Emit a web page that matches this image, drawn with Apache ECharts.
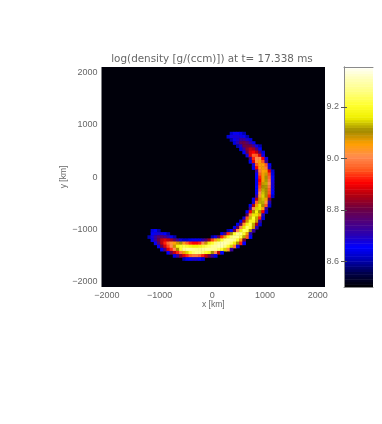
<!DOCTYPE html>
<html><head><meta charset="utf-8">
<style>html,body{margin:0;padding:0;background:#fff}#c{width:382px;height:424px}</style>
<script src="https://cdn.jsdelivr.net/npm/echarts@6/dist/echarts.min.js"></script>
</head><body><div id="c"></div>
<script>
const titleText = 'log(density [g/(ccm)]) at t= 17.338 ms';
const xTicks = [-2000,-1000,0,1000,2000];
const yTicks = [-2000,-1000,0,1000,2000];
const barTicks = [8.6,8.8,9.0,9.2];
const cellKm = 60;
const colorTable = ['#000006','#00004a','#0000b0','#0000ff','#2a00b0','#50007a','#6e0040','#b00010','#ff0000','#ff5a1e','#ff8c50','#ffa000','#a08a00','#f0f000','#ffff30','#ffff80','#ffffb8','#ffffff'];
const barLevels = [8.50,8.51,8.52,8.53,8.54,8.55,8.56,8.57,8.58,8.59,8.60,8.61,8.62,8.63,8.64,8.65,8.66,8.67,8.68,8.69,8.70,8.71,8.72,8.73,8.74,8.75,8.76,8.77,8.78,8.79,8.80,8.81,8.82,8.83,8.84,8.85,8.86,8.87,8.88,8.89,8.90,8.91,8.92,8.93,8.94,8.95,8.96,8.97,8.98,8.99,9.00,9.01,9.02,9.03,9.04,9.05,9.06,9.07,9.08,9.09,9.10,9.11,9.12,9.13,9.14,9.15,9.16,9.17,9.18,9.19,9.20,9.21,9.22,9.23,9.24,9.25,9.26,9.27,9.28,9.29,9.30,9.31,9.32,9.33,9.34,9.35];
// each run: row (y, in cells of 60 km), first column (x, in cells of 60 km), log density values
const runRow = [14,13,12,11,10,9,8,7,6,5,4,3,2,1,0,-1,-2,-3,-4,-5,-6,-7,-8,-9,-10,-11,-12,-13,-14,-15,-16,-17,-17,-18,-18,-19,-19,-20,-20,-21,-22,-23,-24,-25,-26];
const runStart = [6,5,6,7,8,9,10,11,12,12,13,13,14,14,14,14,14,14,14,14,14,13,13,12,12,11,11,10,9,8,7,-19,5,-19,3,-20,0,-19,-3,-18,-17,-16,-14,-12,-9];
const runValues = [
[8.62,8.66,8.66,8.64,8.6],
[8.62,8.67,8.68,8.68,8.67,8.66,8.6],
[8.6,8.66,8.68,8.72,8.72,8.68,8.63],
[8.63,8.7,8.78,8.8,8.76,8.7,8.64],
[8.6,8.68,8.8,8.8,8.8,8.74,8.66,8.6],
[8.63,8.72,8.82,8.86,8.84,8.76,8.65],
[8.65,8.8,8.88,8.9,8.86,8.76,8.63],
[8.67,8.88,8.96,8.95,8.88,8.67],
[8.74,8.92,9.0,9.0,8.9,8.67],
[8.64,8.88,9.02,9.05,8.95,8.72],
[8.68,8.95,9.05,9.05,8.95,8.65],
[8.64,8.9,9.04,9.06,8.98,8.68],
[8.72,8.98,9.05,9.06,8.88,8.62],
[8.66,8.95,9.06,9.08,8.94,8.63],
[8.65,8.92,9.06,9.1,8.96,8.66],
[8.64,8.9,9.06,9.11,8.98,8.67],
[8.64,8.92,9.08,9.12,9.0,8.68],
[8.65,8.94,9.1,9.11,8.98,8.67],
[8.65,8.96,9.12,9.1,8.96,8.66],
[8.66,9.0,9.13,9.1,8.95,8.65],
[8.72,9.03,9.14,9.1,8.92,8.62],
[8.64,8.85,9.08,9.13,9.06,8.8],
[8.68,8.96,9.12,9.12,9.02,8.7],
[8.64,8.85,9.06,9.15,9.1,8.95,8.62],
[8.72,9.0,9.14,9.15,9.05,8.72],
[8.65,8.9,9.1,9.16,9.1,8.9,8.62],
[8.78,9.03,9.15,9.15,9.05,8.7],
[8.68,8.95,9.13,9.2,9.12,8.92,8.62],
[8.64,8.85,9.08,9.18,9.18,9.08,8.72],
[8.64,8.78,9.03,9.17,9.22,9.12,8.85,8.62],
[8.64,8.78,9.0,9.15,9.24,9.2,9.08,8.7],
[8.63,8.65,8.6],
[8.6,8.65,8.8,9.0,9.16,9.24,9.22,9.1,8.72],
[8.65,8.67,8.68,8.67,8.65,8.6],
[8.64,8.74,8.92,9.1,9.2,9.26,9.26,9.2,9.06,8.7],
[8.6,8.67,8.72,8.76,8.76,8.74,8.7,8.66,8.6],
[8.6,8.67,8.78,8.92,9.06,9.18,9.24,9.27,9.27,9.22,9.12,8.95,8.65],
[8.64,8.72,8.8,8.86,8.88,8.86,8.84,8.78,8.72,8.67,8.62,8.62,8.64,8.66,8.66,8.66],
[8.7,8.76,8.84,8.94,9.04,9.14,9.2,9.26,9.28,9.28,9.26,9.2,9.05,8.8],
[8.66,8.76,8.86,8.92,8.97,9.02,9.05,9.08,9.1,9.04,8.96,8.92,8.9,8.9,8.92,9.0,9.08,9.16,9.2,9.25,9.28,9.3,9.3,9.28,9.24,9.16,9.1,8.92,8.65],
[8.66,8.8,8.88,8.94,9.0,9.08,9.17,9.2,9.22,9.2,9.18,9.16,9.16,9.18,9.2,9.22,9.24,9.27,9.28,9.3,9.3,9.26,9.2,9.14,8.98,8.67],
[8.65,8.75,8.88,8.93,9.0,9.1,9.2,9.26,9.28,9.28,9.27,9.26,9.26,9.27,9.28,9.28,9.28,9.27,9.24,9.2,9.14,9.02,8.72],
[8.65,8.78,8.86,8.92,8.98,9.06,9.14,9.2,9.24,9.26,9.26,9.24,9.2,9.17,9.1,9.0,8.86,8.65],
[8.64,8.72,8.82,8.88,8.92,8.96,8.98,8.98,8.96,8.92,8.86,8.8,8.72,8.64],
[8.6,8.64,8.66,8.68,8.68,8.66,8.62]
];
const cells = [];
runValues.forEach((vals, s) => vals.forEach((v, k) => cells.push([(runStart[s] + k) * cellKm, runRow[s] * cellKm, v])));

const txt = '#666';
const font = 'Liberation Sans';
const minusLabel = v => String(v).replace('-', '\u2212');
const frame = {show:true,lineStyle:{color:'#8a8a8a',width:1}};
const chart = echarts.init(document.getElementById('c'), null, {renderer:'canvas'});
chart.setOption({
  animation:false,
  backgroundColor:'#fff',
  title:{text:titleText,left:212,top:54,textAlign:'center',padding:0,
    textStyle:{fontFamily:'DejaVu Sans',fontSize:10.4,fontWeight:'normal',color:txt}},
  grid:[
    {left:101.5,top:67,width:223.5,height:220,show:true,backgroundColor:'#00000a',borderWidth:0},
    {left:344,top:67,width:29,height:220,show:false}
  ],
  xAxis:[
    {gridIndex:0,type:'value',min:-2102,max:2138,splitLine:{show:false},
     name:'x [km]',nameLocation:'middle',nameGap:13,nameMoveOverlap:false,nameTextStyle:{fontFamily:font,fontSize:8.5,color:txt},
     axisLine:{show:false},axisTick:{show:false},
     axisLabel:{customValues:xTicks,formatter:minusLabel,margin:4,fontFamily:font,fontSize:9,color:txt}},
    {gridIndex:1,type:'value',position:'bottom',min:0,max:1,splitLine:{show:false},z:20,axisLine:frame,axisTick:{show:false},axisLabel:{show:false}},
    {gridIndex:1,type:'value',position:'top',min:0,max:1,splitLine:{show:false},z:20,axisLine:frame,axisTick:{show:false},axisLabel:{show:false}}
  ],
  yAxis:[
    {gridIndex:0,type:'value',min:-2100,max:2110,splitLine:{show:false},
     name:'y [km]',nameLocation:'middle',nameGap:33,nameMoveOverlap:false,nameRotate:90,nameTextStyle:{fontFamily:font,fontSize:8.5,color:txt},
     axisLine:{show:false},axisTick:{show:false},
     axisLabel:{customValues:yTicks,formatter:minusLabel,margin:4,fontFamily:font,fontSize:9,color:txt}},
    {gridIndex:1,type:'value',position:'left',min:8.5,max:9.355,z:20,splitLine:{show:false},
     axisLine:frame,axisTick:{customValues:barTicks,inside:true,length:3,lineStyle:{color:'#555'}},
     axisLabel:{customValues:barTicks,formatter:v=>v.toFixed(1),margin:5,fontFamily:font,fontSize:9,color:txt}},
    {gridIndex:1,type:'value',position:'right',min:8.5,max:9.355,z:20,splitLine:{show:false},
     axisLine:frame,axisTick:{customValues:barTicks,inside:true,length:3,lineStyle:{color:'#555'}},axisLabel:{show:false}}
  ],
  visualMap:{type:'continuous',show:false,seriesIndex:[0,1],dimension:2,min:8.5,max:9.355,inRange:{color:colorTable}},
  series:[{
    type:'custom',coordinateSystem:'cartesian2d',xAxisIndex:0,yAxisIndex:0,
    data:cells,encode:{x:0,y:1},clip:true,silent:true,
    renderItem:(params,api)=>{
      const x=api.value(0),y=api.value(1),h=cellKm/2;
      const a=api.coord([x-h,y+h]),b=api.coord([x+h,y-h]);
      return {type:'rect',shape:{x:a[0],y:a[1],width:b[0]-a[0]+0.5,height:b[1]-a[1]+0.5},style:{fill:api.visual('color')}};
    }
  },{
    type:'custom',coordinateSystem:'cartesian2d',xAxisIndex:1,yAxisIndex:1,
    data:barLevels.map(v=>[0,v,v]),encode:{x:0,y:1},clip:true,silent:true,
    renderItem:(params,api)=>{
      const v=api.value(1);
      const a=api.coord([0,v+0.01]),b=api.coord([1,v]);
      return {type:'rect',shape:{x:a[0],y:a[1],width:b[0]-a[0],height:b[1]-a[1]+0.5},style:{fill:api.visual('color')}};
    }
  }]
});
</script></body></html>
